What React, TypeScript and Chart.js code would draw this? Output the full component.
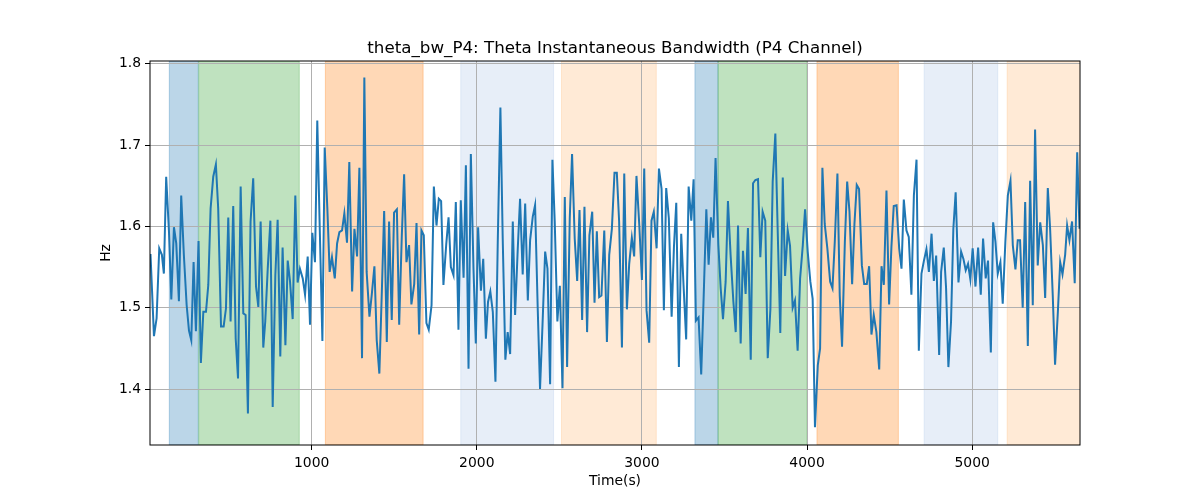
import { useEffect, useRef } from "react";
import Chart from "chart.js/auto";

// Instantes (s) e largura de banda theta (Hz)
const times = [
  24, 45, 61, 77, 93, 105, 119, 136, 150, 166, 180, 196, 210, 226, 243, 257, 271, 285, 299, 315,
  329, 344, 360, 374, 388, 404, 420, 434, 451, 467, 481, 495, 509, 525, 540, 554, 570, 586, 600, 614,
  630, 646, 663, 677, 691, 707, 719, 734, 750, 764, 780, 794, 810, 824, 841, 855, 869, 885, 901, 915,
  929, 946, 960, 976, 990, 1004, 1020, 1034, 1049, 1065, 1079, 1095, 1109, 1123, 1140, 1154, 1168, 1184, 1198, 1214,
  1228, 1245, 1259, 1275, 1289, 1305, 1319, 1333, 1350, 1364, 1380, 1394, 1410, 1425, 1439, 1455, 1469, 1485, 1499, 1516,
  1530, 1546, 1560, 1574, 1590, 1604, 1621, 1635, 1651, 1665, 1679, 1695, 1709, 1726, 1740, 1756, 1770, 1784, 1798, 1815,
  1829, 1843, 1859, 1873, 1889, 1903, 1920, 1934, 1950, 1964, 1980, 1994, 2008, 2025, 2039, 2055, 2068, 2082, 2097, 2113,
  2127, 2143, 2157, 2173, 2187, 2202, 2218, 2232, 2248, 2262, 2278, 2293, 2309, 2323, 2339, 2353, 2369, 2383, 2398, 2414,
  2428, 2444, 2458, 2472, 2488, 2503, 2519, 2533, 2547, 2563, 2577, 2593, 2608, 2622, 2638, 2652, 2668, 2682, 2699, 2713,
  2727, 2741, 2755, 2772, 2788, 2802, 2818, 2834, 2848, 2862, 2879, 2893, 2909, 2923, 2939, 2953, 2967, 2984, 3000, 3014,
  3028, 3044, 3058, 3072, 3089, 3103, 3119, 3133, 3147, 3163, 3180, 3194, 3208, 3224, 3238, 3252, 3268, 3283, 3299, 3313,
  3327, 3343, 3359, 3373, 3390, 3404, 3418, 3432, 3446, 3463, 3477, 3491, 3507, 3521, 3537, 3554, 3568, 3582, 3598, 3612,
  3628, 3642, 3659, 3673, 3687, 3703, 3717, 3731, 3747, 3762, 3778, 3792, 3808, 3822, 3838, 3853, 3867, 3883, 3897, 3913,
  3927, 3943, 3958, 3974, 3988, 4004, 4020, 4034, 4048, 4065, 4079, 4093, 4107, 4123, 4140, 4154, 4168, 4184, 4198, 4212,
  4229, 4243, 4257, 4273, 4287, 4301, 4315, 4332, 4346, 4362, 4376, 4390, 4404, 4420, 4437, 4451, 4465, 4481, 4497, 4511,
  4525, 4542, 4558, 4572, 4586, 4602, 4616, 4632, 4647, 4663, 4677, 4693, 4707, 4723, 4738, 4754, 4768, 4782, 4800, 4812,
  4828, 4842, 4856, 4872, 4886, 4900, 4917, 4933, 4947, 4961, 4975, 4989, 5003, 5020, 5036, 5052, 5066, 5082, 5096, 5113,
  5127, 5141, 5155, 5171, 5185, 5201, 5216, 5232, 5246, 5262, 5276, 5290, 5306, 5321, 5337, 5351, 5367, 5381, 5397, 5412,
  5428, 5442, 5458, 5472, 5488, 5502, 5519, 5533, 5547, 5563, 5575, 5589, 5605, 5621, 5636, 5650,
];

const bandwidth = [
  1.566, 1.465, 1.487, 1.573, 1.565, 1.542, 1.661, 1.593, 1.51, 1.599, 1.579, 1.508, 1.638, 1.565, 1.503, 1.472, 1.46, 1.556, 1.471, 1.582,
  1.432, 1.495, 1.495, 1.528, 1.622, 1.661, 1.676, 1.622, 1.477, 1.477, 1.499, 1.611, 1.483, 1.625, 1.462, 1.413, 1.649, 1.493, 1.491, 1.37,
  1.606, 1.659, 1.526, 1.501, 1.606, 1.451, 1.483, 1.548, 1.607, 1.378, 1.54, 1.608, 1.44, 1.574, 1.454, 1.558, 1.532, 1.486, 1.638, 1.531,
  1.548, 1.536, 1.516, 1.563, 1.479, 1.592, 1.556, 1.73, 1.598, 1.459, 1.697, 1.622, 1.544, 1.562, 1.536, 1.579, 1.593, 1.595, 1.616, 1.58,
  1.679, 1.52, 1.597, 1.563, 1.672, 1.438, 1.783, 1.544, 1.489, 1.516, 1.551, 1.46, 1.419, 1.52, 1.619, 1.458, 1.606, 1.485, 1.617, 1.621,
  1.479, 1.589, 1.664, 1.556, 1.577, 1.504, 1.529, 1.604, 1.467, 1.595, 1.589, 1.481, 1.473, 1.503, 1.649, 1.601, 1.634, 1.631, 1.528, 1.578,
  1.611, 1.55, 1.54, 1.63, 1.473, 1.632, 1.537, 1.675, 1.425, 1.689, 1.548, 1.456, 1.599, 1.521, 1.56, 1.462, 1.507, 1.52, 1.495, 1.409,
  1.581, 1.746, 1.585, 1.436, 1.47, 1.443, 1.606, 1.491, 1.572, 1.634, 1.541, 1.628, 1.509, 1.583, 1.612, 1.626, 1.499, 1.4, 1.479, 1.569,
  1.548, 1.406, 1.682, 1.606, 1.483, 1.527, 1.401, 1.636, 1.427, 1.61, 1.689, 1.585, 1.533, 1.62, 1.485, 1.624, 1.47, 1.589, 1.618, 1.506,
  1.594, 1.513, 1.515, 1.595, 1.458, 1.565, 1.597, 1.666, 1.666, 1.606, 1.451, 1.665, 1.498, 1.554, 1.586, 1.563, 1.662, 1.602, 1.534, 1.671,
  1.497, 1.457, 1.607, 1.618, 1.573, 1.671, 1.646, 1.497, 1.647, 1.61, 1.489, 1.575, 1.629, 1.427, 1.591, 1.528, 1.461, 1.649, 1.607, 1.658,
  1.484, 1.488, 1.418, 1.507, 1.621, 1.553, 1.611, 1.586, 1.684, 1.577, 1.524, 1.486, 1.532, 1.631, 1.565, 1.507, 1.47, 1.601, 1.456, 1.57,
  1.517, 1.598, 1.436, 1.653, 1.657, 1.658, 1.562, 1.618, 1.607, 1.438, 1.498, 1.655, 1.714, 1.597, 1.469, 1.66, 1.539, 1.595, 1.576, 1.5,
  1.509, 1.447, 1.536, 1.576, 1.621, 1.569, 1.532, 1.511, 1.353, 1.429, 1.45, 1.672, 1.603, 1.573, 1.532, 1.524, 1.581, 1.665, 1.515, 1.452,
  1.581, 1.655, 1.618, 1.529, 1.603, 1.651, 1.646, 1.552, 1.529, 1.529, 1.551, 1.467, 1.491, 1.47, 1.424, 1.551, 1.528, 1.644, 1.504, 1.575,
  1.625, 1.626, 1.573, 1.548, 1.633, 1.595, 1.587, 1.516, 1.638, 1.682, 1.447, 1.542, 1.557, 1.572, 1.544, 1.591, 1.533, 1.564, 1.442, 1.544,
  1.574, 1.524, 1.427, 1.483, 1.597, 1.642, 1.531, 1.569, 1.56, 1.546, 1.554, 1.535, 1.573, 1.526, 1.574, 1.516, 1.585, 1.536, 1.558, 1.445,
  1.605, 1.581, 1.542, 1.556, 1.505, 1.581, 1.638, 1.656, 1.577, 1.547, 1.583, 1.583, 1.5, 1.63, 1.453, 1.656, 1.503, 1.719, 1.552, 1.605,
  1.577, 1.512, 1.647, 1.597, 1.515, 1.43, 1.495, 1.556, 1.541, 1.565, 1.601, 1.583, 1.606, 1.53, 1.691, 1.597,
];

// Faixas sombreadas (início, fim, cor)
const spanStarts = [138, 316, 1083, 1903, 2513, 3321, 3461, 4060, 4709, 5212];
const spanEnds = [313, 925, 1675, 2465, 3087, 3461, 4000, 4553, 5155, 5660];
const spanColors = [
  "rgba(31,119,180,0.3)", "rgba(44,160,44,0.3)", "rgba(255,127,14,0.3)", "rgba(174,199,232,0.3)", "rgba(255,187,120,0.3)",
  "rgba(31,119,180,0.3)", "rgba(44,160,44,0.3)", "rgba(255,127,14,0.3)", "rgba(174,199,232,0.3)", "rgba(255,187,120,0.3)",
];

const xTicks = [1000, 2000, 3000, 4000, 5000];
const yTicks = [1.4, 1.5, 1.6, 1.7, 1.8];

const TITLE = "theta_bw_P4: Theta Instantaneous Bandwidth (P4 Channel)";
const FONT = "'DejaVu Sans', sans-serif";

// Faixas atrás da grade, moldura e textos por cima — como no matplotlib
const moldura = {
  id: "moldura",
  beforeDraw(chart: Chart) {
    const { ctx, chartArea: a, scales } = chart;
    const x = scales.x;
    ctx.save();
    ctx.beginPath();
    ctx.rect(a.left, a.top, a.right - a.left, a.bottom - a.top);
    ctx.clip();
    spanStarts.forEach((s, i) => {
      const x0 = x.getPixelForValue(s);
      const x1 = x.getPixelForValue(spanEnds[i]);
      ctx.fillStyle = spanColors[i];
      ctx.fillRect(x0, a.top, x1 - x0, a.bottom - a.top);
      ctx.strokeStyle = spanColors[i];
      ctx.lineWidth = 1;
      ctx.strokeRect(x0, a.top, x1 - x0, a.bottom - a.top);
    });
    ctx.restore();
  },
  afterDraw(chart: Chart) {
    const { ctx, chartArea: a } = chart;
    ctx.save();
    ctx.strokeStyle = "#000";
    ctx.lineWidth = 1;
    ctx.strokeRect(a.left, a.top, a.right - a.left, a.bottom - a.top);
    ctx.fillStyle = "#000";
    ctx.textAlign = "center";
    ctx.textBaseline = "alphabetic";
    ctx.font = `16.7px ${FONT}`;
    ctx.fillText(TITLE, (a.left + a.right) / 2, a.top - 8);
    ctx.font = `13.9px ${FONT}`;
    ctx.textBaseline = "middle";
    ctx.fillText("Time(s)", (a.left + a.right) / 2, 481);
    ctx.translate(106, (a.top + a.bottom) / 2);
    ctx.rotate(-Math.PI / 2);
    ctx.fillText("Hz", 0, 0);
    ctx.restore();
  },
};

export default function App() {
  const canvasRef = useRef<HTMLCanvasElement>(null);

  useEffect(() => {
    document.body.style.margin = "0";
    const canvas = canvasRef.current;
    if (!canvas) return;
    Chart.defaults.font.family = FONT;
    Chart.defaults.font.size = 13.9;
    Chart.defaults.color = "#000";

    const chart = new Chart(canvas, {
      type: "line",
      data: {
        datasets: [
          {
            data: times.map((t, i) => ({ x: t, y: bandwidth[i] })),
            borderColor: "#1f77b4",
            borderWidth: 2,
            pointRadius: 0,
            tension: 0,
            fill: false,
          },
        ],
      },
      options: {
        responsive: false,
        animation: false,
        events: [],
        layout: { padding: { top: 61, right: 120, left: 0, bottom: 0 } },
        plugins: { legend: { display: false }, title: { display: false }, tooltip: { enabled: false } },
        scales: {
          x: {
            type: "linear",
            min: 21,
            max: 5653,
            afterFit: (s: any) => { s.height = 55; },
            afterBuildTicks: (s: any) => { s.ticks = xTicks.map((v) => ({ value: v })); },
            grid: { color: "#b0b0b0", lineWidth: 1, tickColor: "#000", tickLength: 5 },
            border: { display: false },
            ticks: { padding: 5, maxRotation: 0, callback: (v: any) => String(v) },
          },
          y: {
            min: 1.3312,
            max: 1.8033,
            afterFit: (s: any) => { s.width = 150; },
            afterBuildTicks: (s: any) => { s.ticks = yTicks.map((v) => ({ value: v })); },
            grid: { color: "#b0b0b0", lineWidth: 1, tickColor: "#000", tickLength: 5 },
            border: { display: false },
            ticks: { padding: 4, callback: (v: any) => Number(v).toFixed(1) },
          },
        },
      },
      plugins: [moldura],
    });
    return () => chart.destroy();
  }, []);

  return (
    <div style={{ width: 1200, height: 500, background: "#fff" }}>
      <canvas ref={canvasRef} width={1200} height={500}></canvas>
    </div>
  );
}
